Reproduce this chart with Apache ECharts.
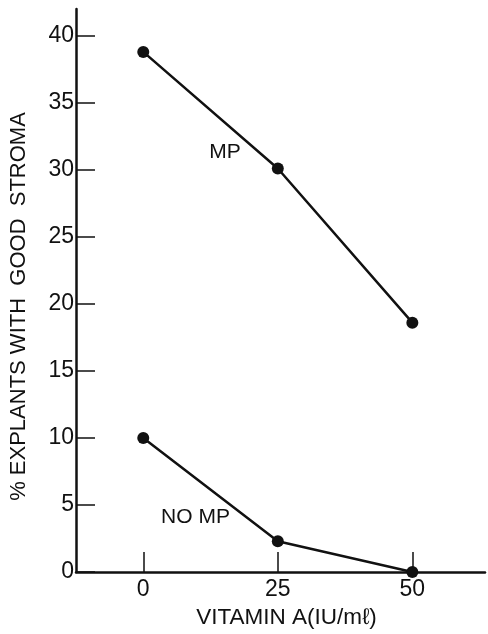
<!DOCTYPE html>
<html>
<head>
<meta charset="utf-8">
<script src="https://cdn.jsdelivr.net/npm/echarts@6/dist/echarts.min.js"></script>
<style>html,body{margin:0;padding:0;background:#fff}#c{width:488px;height:634px}</style>
</head>
<body>
<div id="c"></div>
<script>
var vitaminA = [0, 25, 50];
var mpValues = [38.8, 30.1, 18.6];
var noMpValues = [10.0, 2.3, 0.0];
var xTicks = [0, 25, 50];
var yTicks = [0, 5, 10, 15, 20, 25, 30, 35, 40];
var seriesLabels = ['MP', 'NO MP'];
var labelAnchors = [[15.2, 31.3], [9.7, 4.1]];

var FONT = '"Liberation Sans", Arial, sans-serif';
var INK = '#111';

function pairs(xs, ys) { return xs.map(function (x, i) { return [x, ys[i]]; }); }

function lineSeries(name, ys, anchor) {
  return {
    name: name, type: 'line', data: pairs(vitaminA, ys),
    symbol: 'circle', symbolSize: 12,
    lineStyle: { color: INK, width: 2.5 },
    itemStyle: { color: INK },
    z: 5,
    markPoint: {
      symbol: 'circle', symbolSize: 0,
      label: { show: true, formatter: name, color: INK, fontFamily: FONT, fontSize: 21, position: 'inside' },
      data: [{ coord: anchor }]
    }
  };
}

var chart = echarts.init(document.getElementById('c'), null, { renderer: 'canvas' });
chart.setOption({
  animation: false,
  backgroundColor: '#fff',
  grid: { left: 71, right: 3, top: 9, bottom: 58, containLabel: false },
  xAxis: {
    type: 'value', min: -12.5, max: 63.5,
    name: 'VITAMIN A(IU/m\u2113)', nameLocation: 'middle', nameGap: 34,
    nameTextStyle: { color: INK, fontFamily: FONT, fontSize: 22.5, padding: [0, 0, 0, 12] },
    axisLine: { onZero: false, lineStyle: { color: INK, width: 2.5 } },
    axisTick: { show: true, inside: true, length: 20, customValues: xTicks, lineStyle: { color: INK, width: 1.5 } },
    axisLabel: { customValues: xTicks, color: INK, fontFamily: FONT, fontSize: 23, margin: 6 },
    splitLine: { show: false }
  },
  yAxis: {
    type: 'value', min: 0, max: 42,
    name: '% EXPLANTS WITH  GOOD  STROMA', nameLocation: 'middle', nameGap: 46,
    nameTextStyle: { color: INK, fontFamily: FONT, fontSize: 22, padding: [0, 32, 0, 0] },
    axisLine: { show: true, onZero: false, lineStyle: { color: INK, width: 2.5 } },
    axisTick: { show: true, inside: true, length: 19, customValues: yTicks, lineStyle: { color: INK, width: 1.5 } },
    axisLabel: { customValues: yTicks, color: INK, fontFamily: FONT, fontSize: 23, margin: 2 },
    splitLine: { show: false }
  },
  series: [
    lineSeries(seriesLabels[0], mpValues, labelAnchors[0]),
    lineSeries(seriesLabels[1], noMpValues, labelAnchors[1])
  ]
});
</script>
</body>
</html>
